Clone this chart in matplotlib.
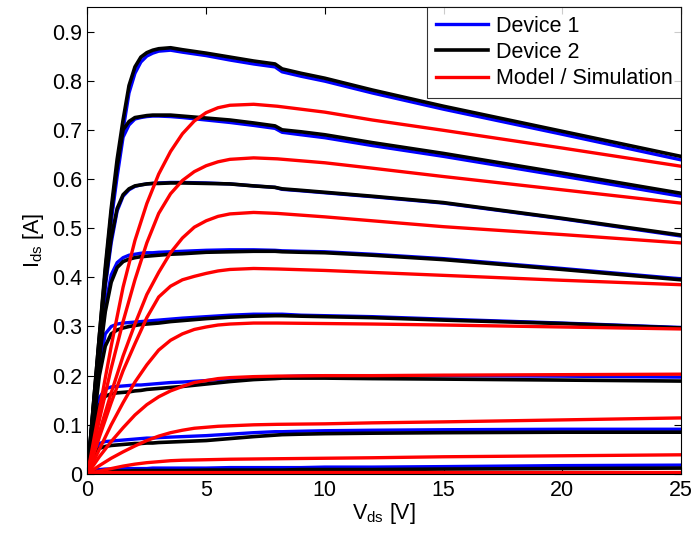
import matplotlib.pyplot as plt

plt.rcParams['font.family'] = ['Liberation Sans', 'DejaVu Sans']
plt.rcParams['mathtext.default'] = 'regular'

# -------------------------------
# Data
# -------------------------------
# drain voltage grid for the measured curves
vd = [0, 0.25, 0.5, 0.75, 1, 1.25, 1.5, 1.75, 2, 2.25, 2.5, 2.75, 3, 3.5, 4,
      5, 6, 7, 7.9, 8.2, 9, 10, 12, 15, 20, 25]

# Device 1 (blue), one list per gate step
dev1 = [
    [0, 0.13, 0.27, 0.40, 0.52, 0.62, 0.70, 0.775, 0.815, 0.838, 0.85, 0.856, 0.86,
     0.862, 0.858, 0.851, 0.842, 0.834, 0.828, 0.818, 0.809, 0.799, 0.775, 0.742, 0.691, 0.639],
    [0, 0.13, 0.27, 0.40, 0.515, 0.605, 0.685, 0.71, 0.722, 0.725, 0.727, 0.728, 0.728,
     0.727, 0.725, 0.720, 0.715, 0.709, 0.703, 0.695, 0.690, 0.684, 0.668, 0.646, 0.606, 0.565],
    [0, 0.13, 0.26, 0.38, 0.47, 0.535, 0.565, 0.578, 0.585, 0.588, 0.59, 0.591, 0.592,
     0.593, 0.593, 0.592, 0.59, 0.586, 0.583, 0.579, 0.576, 0.572, 0.564, 0.551, 0.519, 0.484],
    [0, 0.12, 0.24, 0.34, 0.405, 0.43, 0.44, 0.445, 0.447, 0.449, 0.45, 0.45, 0.451,
     0.452, 0.453, 0.455, 0.456, 0.456, 0.455, 0.454, 0.453, 0.452, 0.447, 0.438, 0.418, 0.397],
    [0, 0.11, 0.22, 0.285, 0.30, 0.305, 0.307, 0.308, 0.309, 0.310, 0.311, 0.312, 0.313,
     0.315, 0.317, 0.32, 0.323, 0.325, 0.325, 0.325, 0.323, 0.322, 0.320, 0.315, 0.307, 0.298],
    [0, 0.09, 0.155, 0.173, 0.177, 0.178, 0.179, 0.18, 0.181, 0.181, 0.182, 0.183, 0.184,
     0.186, 0.187, 0.19, 0.194, 0.196, 0.198, 0.198, 0.199, 0.2, 0.2, 0.2, 0.199, 0.197],
    [0, 0.045, 0.062, 0.066, 0.067, 0.068, 0.069, 0.07, 0.071, 0.072, 0.073, 0.073, 0.074,
     0.075, 0.076, 0.078, 0.081, 0.084, 0.086, 0.086, 0.087, 0.088, 0.089, 0.09, 0.091, 0.091],
    [0, 0.007, 0.009, 0.010, 0.010, 0.011, 0.011, 0.011, 0.011, 0.011, 0.011, 0.012, 0.012,
     0.012, 0.012, 0.012, 0.013, 0.013, 0.013, 0.013, 0.013, 0.014, 0.014, 0.015, 0.017, 0.018],
]

# Device 2 (black)
dev2 = [
    [0, 0.14, 0.28, 0.42, 0.54, 0.64, 0.72, 0.79, 0.828, 0.848, 0.857, 0.862, 0.865,
     0.867, 0.863, 0.856, 0.848, 0.840, 0.834, 0.824, 0.815, 0.805, 0.781, 0.748, 0.697, 0.646],
    [0, 0.14, 0.28, 0.41, 0.53, 0.625, 0.70, 0.717, 0.725, 0.727, 0.729, 0.730, 0.730,
     0.730, 0.728, 0.724, 0.72, 0.714, 0.708, 0.700, 0.696, 0.690, 0.674, 0.652, 0.612, 0.571],
    [0, 0.135, 0.27, 0.39, 0.48, 0.54, 0.568, 0.58, 0.586, 0.588, 0.59, 0.591, 0.591,
     0.592, 0.592, 0.591, 0.590, 0.586, 0.583, 0.580, 0.577, 0.573, 0.565, 0.552, 0.52, 0.486],
    [0, 0.12, 0.235, 0.33, 0.39, 0.42, 0.432, 0.437, 0.44, 0.442, 0.443, 0.444, 0.445,
     0.447, 0.448, 0.451, 0.452, 0.453, 0.453, 0.452, 0.451, 0.45, 0.445, 0.436, 0.416, 0.395],
    [0, 0.10, 0.2, 0.26, 0.285, 0.293, 0.297, 0.3, 0.302, 0.304, 0.305, 0.306, 0.307,
     0.31, 0.312, 0.316, 0.319, 0.321, 0.322, 0.322, 0.321, 0.32, 0.318, 0.313, 0.306, 0.297],
    [0, 0.085, 0.14, 0.158, 0.163, 0.165, 0.166, 0.167, 0.169, 0.17, 0.172, 0.173, 0.174,
     0.176, 0.178, 0.183, 0.188, 0.192, 0.194, 0.195, 0.195, 0.195, 0.194, 0.193, 0.191, 0.189],
    [0, 0.038, 0.052, 0.056, 0.058, 0.059, 0.06, 0.061, 0.062, 0.062, 0.063, 0.063, 0.064,
     0.065, 0.066, 0.068, 0.072, 0.076, 0.079, 0.080, 0.081, 0.082, 0.083, 0.084, 0.085, 0.085],
    [0, 0.003, 0.005, 0.006, 0.006, 0.006, 0.006, 0.006, 0.007, 0.007, 0.007, 0.007, 0.007,
     0.007, 0.007, 0.008, 0.008, 0.008, 0.008, 0.008, 0.009, 0.009, 0.009, 0.010, 0.011, 0.012],
]

# drain voltage grid for the model curves
vm = [0, 0.5, 1, 1.5, 2, 2.5, 3, 3.5, 4, 4.5, 5, 5.5, 6, 7, 8, 10, 12, 15, 20, 25]

# Model / Simulation (red)
model = [
    [0, 0.13, 0.26, 0.38, 0.475, 0.55, 0.61, 0.656, 0.692, 0.718, 0.735, 0.745,
     0.75, 0.752, 0.748, 0.736, 0.72, 0.699, 0.663, 0.626],
    [0, 0.11, 0.215, 0.31, 0.395, 0.47, 0.53, 0.57, 0.597, 0.615, 0.627, 0.635,
     0.64, 0.643, 0.641, 0.633, 0.622, 0.605, 0.578, 0.551],
    [0, 0.085, 0.165, 0.24, 0.305, 0.365, 0.41, 0.45, 0.48, 0.502, 0.515, 0.524,
     0.529, 0.532, 0.530, 0.523, 0.515, 0.503, 0.487, 0.470],
    [0, 0.075, 0.145, 0.21, 0.265, 0.318, 0.36, 0.382, 0.395, 0.402, 0.408, 0.413,
     0.416, 0.418, 0.417, 0.414, 0.41, 0.404, 0.394, 0.385],
    [0, 0.05, 0.1, 0.145, 0.187, 0.222, 0.252, 0.272, 0.285, 0.294, 0.299, 0.303,
     0.305, 0.307, 0.307, 0.306, 0.305, 0.303, 0.299, 0.295],
    [0, 0.035, 0.066, 0.094, 0.12, 0.141, 0.157, 0.169, 0.178, 0.186, 0.19, 0.194,
     0.196, 0.198, 0.199, 0.2, 0.2, 0.201, 0.202, 0.203],
    [0, 0.017, 0.032, 0.045, 0.057, 0.068, 0.077, 0.084, 0.089, 0.093, 0.095, 0.097,
     0.098, 0.1, 0.101, 0.102, 0.104, 0.106, 0.11, 0.114],
    [0, 0.006, 0.011, 0.016, 0.02, 0.023, 0.025, 0.027, 0.028, 0.0285, 0.029, 0.0295,
     0.03, 0.0305, 0.031, 0.032, 0.033, 0.035, 0.037, 0.039],
    [0, 0.002, 0.003, 0.003, 0.003, 0.003, 0.003, 0.003, 0.003, 0.003, 0.003, 0.003,
     0.003, 0.003, 0.003, 0.003, 0.003, 0.003, 0.003, 0.003],
]

x_ticks = [0, 5, 10, 15, 20, 25]
y_ticks = [0, 0.1, 0.2, 0.3, 0.4, 0.5, 0.6, 0.7, 0.8, 0.9]
y_tick_labels = ["0", "0.1", "0.2", "0.3", "0.4", "0.5", "0.6", "0.7", "0.8", "0.9"]

# -------------------------------
# Plot
# -------------------------------
fig = plt.figure(figsize=(6.92, 5.34), dpi=100)
ax = fig.add_axes([0.1264, 0.1124, 0.8576, 0.8746])

for i, curve in enumerate(dev1):
    ax.plot(vd, curve, color="#0000ff", lw=2.4, label="Device 1" if i == 0 else None)
for i, curve in enumerate(dev2):
    ax.plot(vd, curve, color="black", lw=2.6, label="Device 2" if i == 0 else None)
for i, curve in enumerate(model):
    ax.plot(vm, curve, color="#ff0000", lw=2.4, label="Model / Simulation" if i == 0 else None)

ax.set_xlim(0, 25)
ax.set_ylim(0, 0.95)
ax.set_xticks(x_ticks)
ax.set_yticks(y_ticks)
ax.set_yticklabels(y_tick_labels)
ax.tick_params(direction="in", top=True, right=True, length=5, labelsize=15.5, pad=4)

ax.set_xlabel(r"V$_{ds}$ [V]", fontsize=15.5, labelpad=0)
ax.set_ylabel(r"I$_{ds}$ [A]", fontsize=15.5, labelpad=4)

leg = ax.legend(loc="upper right", fontsize=15.5, frameon=True, fancybox=False,
                borderaxespad=0, handlelength=2.45, handletextpad=0.33,
                borderpad=0.4, labelspacing=0.25)
leg.get_frame().set_edgecolor("black")
leg.get_frame().set_linewidth(0.8)

plt.savefig("out.png", dpi=100)
